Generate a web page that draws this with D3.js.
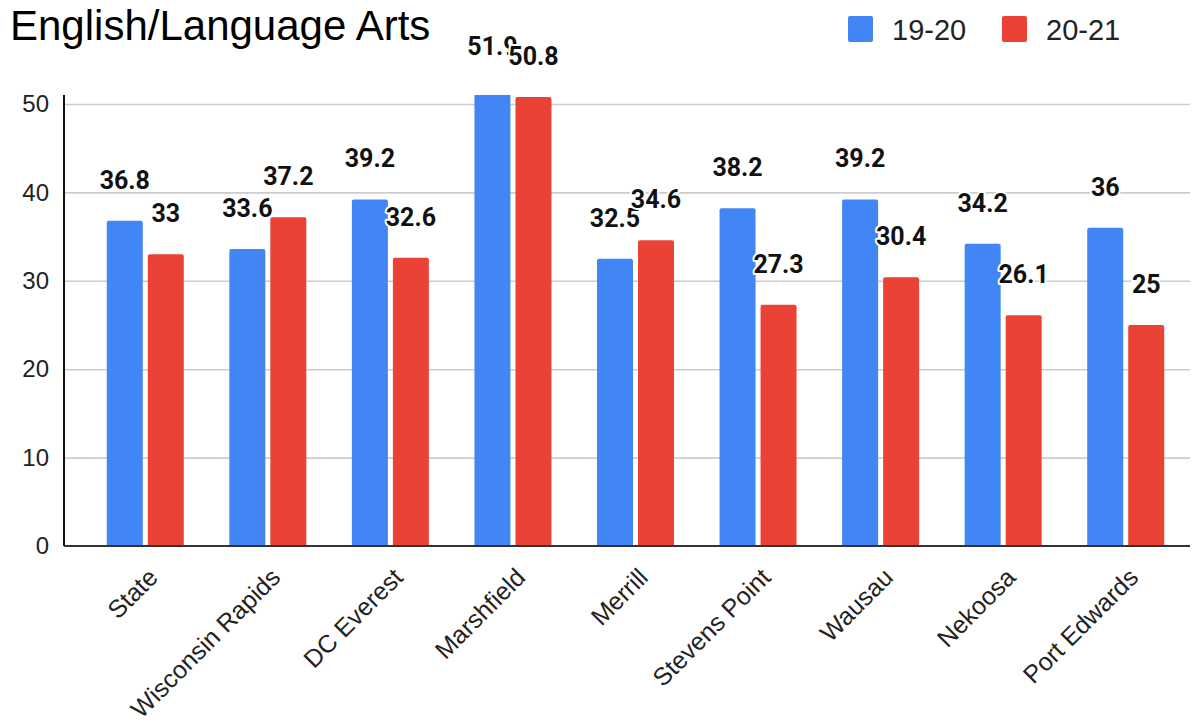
<!DOCTYPE html>
<html>
<head>
<meta charset="utf-8">
<script src="https://cdn.jsdelivr.net/npm/d3@7"></script>
<style>
  body { margin: 0; background: #fff; }
  text { font-family: "Liberation Sans", Arial, sans-serif; }
</style>
</head>
<body>
<svg id="chart" width="1193" height="720"></svg>
<script>
// data
var categories = ["State", "Wisconsin Rapids", "DC Everest", "Marshfield", "Merrill",
                  "Stevens Point", "Wausau", "Nekoosa", "Port Edwards"];
var seriesNames = ["19-20", "20-21"];
var values1920 = [36.8, 33.6, 39.2, 51.9, 32.5, 38.2, 39.2, 34.2, 36];
var values2021 = [33, 37.2, 32.6, 50.8, 34.6, 27.3, 30.4, 26.1, 25];
var yTicks = [0, 10, 20, 30, 40, 50];
var colors = ["#4285f4", "#ea4335"];
var title = "English/Language Arts";

var svg = d3.select("#chart");

// plot box (note: "top" is reserved on window, so prefix everything)
var plotLeft = 64, plotRight = 1190, plotTop = 95, plotBottom = 546;
var labelLift = 41;   // value labels float this far above the bar top

var y = d3.scaleLinear().domain([0, 50]).range([plotBottom, 104]);

var x0 = d3.scaleBand().domain(categories).range([84, 1187]);
var x1 = d3.scaleBand().domain(seriesNames).range([0, 77]).paddingInner(0.122);
var groupOffset = (x0.bandwidth() - 77) / 2;

var rows = categories.map(function(c, i) {
   return { cat: c, vals: [values1920[i], values2021[i]] };
});

// title
svg.append("text")
   .attr("x", 10).attr("y", 40)
   .style("font-size", "42px")
   .style("fill", "#000")
   .text(title);

// legend
var legend = svg.append("g");
var legendX = [848, 1002];
seriesNames.forEach(function(s, i) {
   legend.append("rect")
      .attr("x", legendX[i]).attr("y", 16)
      .attr("width", 25).attr("height", 26)
      .attr("rx", 2)
      .style("fill", colors[i]);
   legend.append("text")
      .attr("x", legendX[i] + 44).attr("y", 40)
      .style("font-size", "29px")
      .style("fill", "#222")
      .text(s);
});

// grid + y labels
var yAxis = svg.append("g")
   .attr("transform", "translate(" + plotLeft + ",0)")
   .call(d3.axisLeft(y).tickValues(yTicks).tickSize(-(plotRight - plotLeft)).tickPadding(15).tickFormat(d3.format("d")));
yAxis.select(".domain").remove();
yAxis.selectAll(".tick line")
   .style("stroke", function(d) { return d === 0 ? "none" : "#cccccc"; })
   .style("stroke-width", 1.6);
yAxis.selectAll(".tick text")
   .style("font-size", "24px")
   .style("fill", "#222");

// bars
svg.append("clipPath").attr("id", "plotClip")
   .append("rect")
   .attr("x", plotLeft).attr("y", plotTop)
   .attr("width", plotRight - plotLeft).attr("height", plotBottom - plotTop);

function topRounded(x, yTop, w, h, r) {
   return "M" + x + "," + (yTop + h) +
          "V" + (yTop + r) +
          "Q" + x + "," + yTop + " " + (x + r) + "," + yTop +
          "H" + (x + w - r) +
          "Q" + (x + w) + "," + yTop + " " + (x + w) + "," + (yTop + r) +
          "V" + (yTop + h) + "Z";
}

var groups = svg.append("g").attr("clip-path", "url(#plotClip)")
   .selectAll(".group")
   .data(rows)
   .enter().append("g")
   .attr("class", "group")
   .attr("transform", function(d) { return "translate(" + (x0(d.cat) + groupOffset) + ",0)"; });

groups.selectAll("path")
   .data(function(d) { return d.vals; })
   .enter().append("path")
   .attr("d", function(v, i) {
      return topRounded(x1(seriesNames[i]), y(v), x1.bandwidth(), plotBottom - y(v), 2);
   })
   .style("fill", function(v, i) { return colors[i]; });

// axes lines
svg.append("line")
   .attr("x1", plotLeft).attr("x2", plotRight)
   .attr("y1", plotBottom).attr("y2", plotBottom)
   .style("stroke", "#333").style("stroke-width", 2);
svg.append("line")
   .attr("x1", plotLeft).attr("x2", plotLeft)
   .attr("y1", plotTop).attr("y2", plotBottom)
   .style("stroke", "#111").style("stroke-width", 2);

// category labels
var xAxis = svg.append("g")
   .attr("transform", "translate(0," + plotBottom + ")")
   .call(d3.axisBottom(x0).tickSize(0));
xAxis.select(".domain").remove();
xAxis.selectAll(".tick text")
   .attr("y", 0).attr("dy", 0)
   .attr("text-anchor", "end")
   .attr("transform", "translate(14,33) rotate(-45)")
   .style("font-size", "25px")
   .style("fill", "#222");

// value labels
var labels = svg.append("g");
seriesNames.forEach(function(s, si) {
   labels.selectAll(".lbl" + si)
      .data(rows)
      .enter().append("text")
      .attr("class", "lbl" + si)
      .attr("x", function(d) { return x0(d.cat) + groupOffset + x1(s) + x1.bandwidth() / 2; })
      .attr("y", function(d) { return y(d.vals[si]) - labelLift; })
      .attr("dy", "0.36em")
      .attr("text-anchor", "middle")
      .style("font-family", "Roboto, sans-serif")
      .style("font-weight", "bold")
      .style("font-size", "25px")
      .style("fill", "#111")
      .style("stroke", "#fff")
      .style("stroke-width", 4)
      .style("stroke-linejoin", "round")
      .style("paint-order", "stroke")
      .text(function(d) { return String(d.vals[si]); });
});
</script>
</body>
</html>
